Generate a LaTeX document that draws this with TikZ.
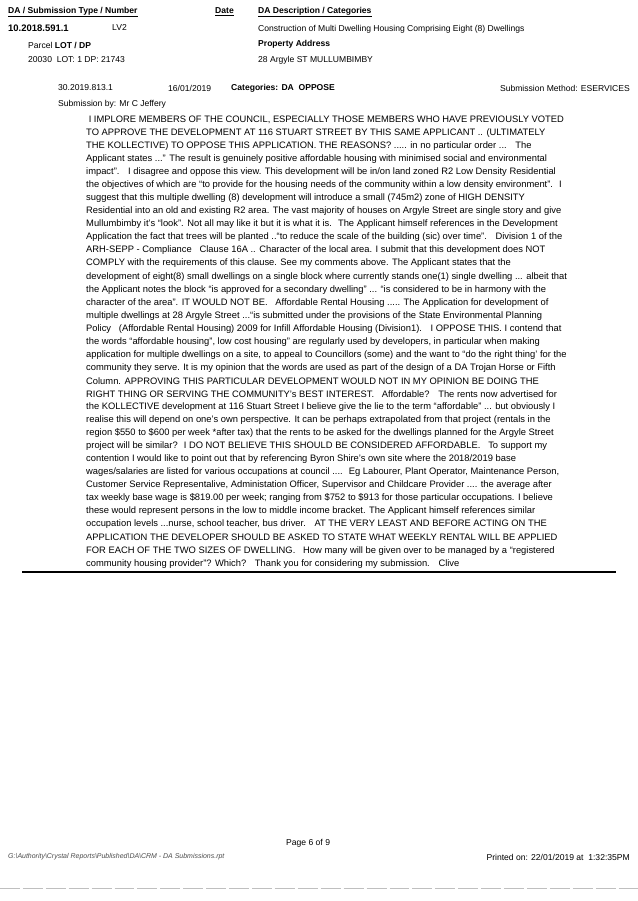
\documentclass[tikz,border=0pt]{standalone}
\usepackage{fontspec}
\setmainfont{Liberation Sans}
\begin{document}
\begin{tikzpicture}[x=1bp,y=-1bp,
  t/.style={anchor=west,inner sep=0pt,font=\fontsize{8.6}{9}\selectfont},
  h/.style={t,font=\fontsize{8.6}{9}\selectfont\bfseries},
  b/.style={anchor=west,inner sep=0pt,font=\fontsize{9.4}{10}\selectfont}]
\useasboundingbox (0,0) rectangle (638,901);
\fill[white] (0,0) rectangle (638,901);
\node[h] (h1) at (8,12) {\underline{DA / Submission Type / Number}};
\node[h] (h2) at (215,12) {\underline{Date}};
\node[h] (h3) at (258,12) {\underline{DA Description / Categories}};
\node[h,font=\fontsize{9.5}{10}\selectfont\bfseries] (n1) at (8,28) {10.2018.591.1};
\node[t] (lv) at (112,28) {LV2};
\node[t] (d1) at (258,29) {Construction of Multi Dwelling Housing Comprising Eight (8) Dwellings};
\node[t] (p1) at (28,45) {Parcel \textbf{LOT / DP}};
\node[h] (pa) at (258,44) {Property Address};
\node[t] (p2) at (28,60) {20030 \ LOT: 1 DP: 21743};
\node[t] (ad) at (258,60) {28 Argyle ST MULLUMBIMBY};
\node[t] (s1) at (58,88) {30.2019.813.1};
\node[t] (s2) at (168,88) {16/01/2019};
\node[h] (s3) at (231,88) {Categories: DA \ OPPOSE};
\node[t,anchor=east] (s4) at (630,88) {Submission Method: ESERVICES};
\node[t] (s5) at (58,104) {Submission by: Mr C Jeffery};
\foreach \i/\l in {
0/{\ I IMPLORE MEMBERS OF THE COUNCIL, ESPECIALLY THOSE MEMBERS WHO HAVE PREVIOUSLY VOTED},
1/{TO APPROVE THE DEVELOPMENT AT 116 STUART STREET BY THIS SAME APPLICANT .. (ULTIMATELY},
2/{THE KOLLECTIVE) TO OPPOSE THIS APPLICATION. THE REASONS? ..... in no particular order ... \ \ The},
3/{Applicant states ...'' The result is genuinely positive affordable housing with minimised social and environmental},
4/{impact''. \ \ I disagree and oppose this view. This development will be in/on land zoned R2 Low Density Residential},
5/{the objectives of which are ``to provide for the housing needs of the community within a low density environment''. \ I},
6/{suggest that this multiple dwelling (8) development will introduce a small (745m2) zone of HIGH DENSITY},
7/{Residential into an old and existing R2 area. The vast majority of houses on Argyle Street are single story and give},
8/{Mullumbimby it's ``look''. Not all may like it but it is what it is. \ The Applicant himself references in the Development},
9/{Application the fact that trees will be planted ..``to reduce the scale of the building (sic) over time''. \ \ Division 1 of the},
10/{ARH-SEPP - Compliance \ \ Clause 16A .. Character of the local area. I submit that this development does NOT},
11/{COMPLY with the requirements of this clause. See my comments above. The Applicant states that the},
12/{development of eight(8) small dwellings on a single block where currently stands one(1) single dwelling ... albeit that},
13/{the Applicant notes the block ``is approved for a secondary dwelling'' ... ``is considered to be in harmony with the},
14/{character of the area''. IT WOULD NOT BE. \ \ Affordable Rental Housing ..... The Application for development of},
15/{multiple dwellings at 28 Argyle Street ...``is submitted under the provisions of the State Environmental Planning},
16/{Policy \ \ (Affordable Rental Housing) 2009 for Infill Affordable Housing (Division1). \ \ I OPPOSE THIS. I contend that},
17/{the words ``affordable housing'', low cost housing'' are regularly used by developers, in particular when making},
18/{application for multiple dwellings on a site, to appeal to Councillors (some) and the want to ``do the right thing' for the},
19/{community they serve. It is my opinion that the words are used as part of the design of a DA Trojan Horse or Fifth},
20/{Column. APPROVING THIS PARTICULAR DEVELOPMENT WOULD NOT IN MY OPINION BE DOING THE},
21/{RIGHT THING OR SERVING THE COMMUNITY's BEST INTEREST. \ \ Affordable? \ \ The rents now advertised for},
22/{the KOLLECTIVE development at 116 Stuart Street I believe give the lie to the term ``affordable'' ... but obviously I},
23/{realise this will depend on one's own perspective. It can be perhaps extrapolated from that project (rentals in the},
24/{region \$550 to \$600 per week *after tax) that the rents to be asked for the dwellings planned for the Argyle Street},
25/{project will be similar? \ I DO NOT BELIEVE THIS SHOULD BE CONSIDERED AFFORDABLE. \ \ To support my},
26/{contention I would like to point out that by referencing Byron Shire's own site where the 2018/2019 base},
27/{wages/salaries are listed for various occupations at council .... \ Eg Labourer, Plant Operator, Maintenance Person,},
28/{Customer Service Representalive, Administation Officer, Supervisor and Childcare Provider .... the average after},
29/{tax weekly base wage is \$819.00 per week; ranging from \$752 to \$913 for those particular occupations. I believe},
30/{these would represent persons in the low to middle income bracket. The Applicant himself references similar},
31/{occupation levels ...nurse, school teacher, bus driver. \ \ AT THE VERY LEAST AND BEFORE ACTING ON THE},
32/{APPLICATION THE DEVELOPER SHOULD BE ASKED TO STATE WHAT WEEKLY RENTAL WILL BE APPLIED},
33/{FOR EACH OF THE TWO SIZES OF DWELLING. \ \ How many will be given over to be managed by a ``registered},
34/{community housing provider''? Which? \ \ Thank you for considering my submission. \ \ Clive}}
  \node[b] (L\i) at (86,{120+13.05*\i}) {\l};
\draw[line width=1.4pt] (22,572) -- (616,572);
\node[t] (pg) at (286,843) {Page 6 of 9};
\node[t,font=\fontsize{7}{8}\selectfont\itshape,text=black!70] (fp) at (8,857) {G:\textbackslash Authority\textbackslash Crystal Reports\textbackslash Published\textbackslash DA\textbackslash CRM - DA Submissions.rpt};
\node[t,anchor=east] (pr) at (630,857) {Printed on: 22/01/2019 at \ 1:32:35PM};
\draw[black!25,line width=0.5pt,dash pattern=on 20pt off 3pt] (0,888) -- (638,888);
\end{tikzpicture}
\end{document}
